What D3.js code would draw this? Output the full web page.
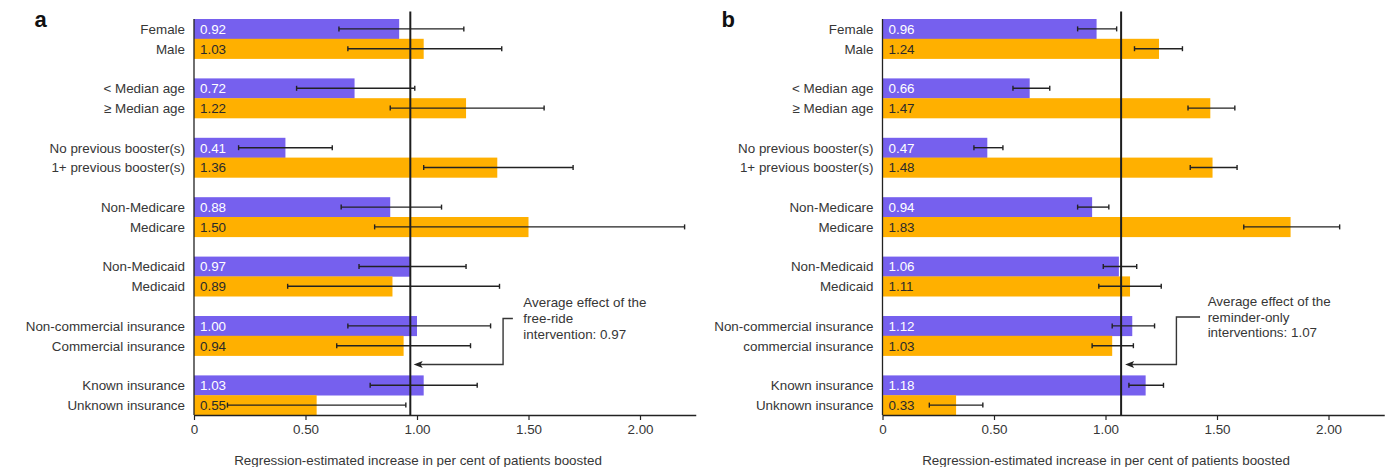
<!DOCTYPE html>
<html>
<head>
<meta charset="utf-8">
<script src="https://cdn.jsdelivr.net/npm/d3@7"></script>
<style>
  html, body { margin: 0; padding: 0; background: #fff; }
  svg { display: block; font-family: "Liberation Sans", Arial, Helvetica, sans-serif; }
</style>
</head>
<body>
<svg id="chart" width="1392" height="467"></svg>
<script>
// ---------- DATA ----------
const categoriesA = ["Female", "Male", "< Median age", "≥ Median age", "No previous booster(s)", "1+ previous booster(s)",
  "Non-Medicare", "Medicare", "Non-Medicaid", "Medicaid", "Non-commercial insurance", "Commercial insurance",
  "Known insurance", "Unknown insurance"];
const categoriesB = ["Female", "Male", "< Median age", "≥ Median age", "No previous booster(s)", "1+ previous booster(s)",
  "Non-Medicare", "Medicare", "Non-Medicaid", "Medicaid", "Non-commercial insurance", "commercial insurance",
  "Known insurance", "Unknown insurance"];

const valuesA = [0.92, 1.03, 0.72, 1.22, 0.41, 1.36, 0.88, 1.50, 0.97, 0.89, 1.00, 0.94, 1.03, 0.55];
const lowA    = [0.65, 0.69, 0.46, 0.88, 0.20, 1.03, 0.66, 0.81, 0.74, 0.42, 0.69, 0.64, 0.79, 0.15];
const highA   = [1.21, 1.38, 0.99, 1.57, 0.62, 1.70, 1.11, 2.20, 1.22, 1.37, 1.33, 1.24, 1.27, 0.95];

const valuesB = [0.96, 1.24, 0.66, 1.47, 0.47, 1.48, 0.94, 1.83, 1.06, 1.11, 1.12, 1.03, 1.18, 0.33];
const lowB    = [0.875, 1.13, 0.585, 1.37, 0.41, 1.38, 0.875, 1.62, 0.99, 0.97, 1.03, 0.94, 1.105, 0.21];
const highB   = [1.05, 1.345, 0.75, 1.58, 0.54, 1.59, 1.015, 2.05, 1.14, 1.25, 1.22, 1.125, 1.26, 0.45];

const tickValues = [0, 0.5, 1, 1.5, 2];
const tickLabels = ["0", "0.50", "1.00", "1.50", "2.00"];

const averageA = 0.97;
const averageB = 1.07;
const noteA = ["Average effect of the", "free-ride", "intervention: 0.97"];
const noteB = ["Average effect of the", "reminder-only", "interventions: 1.07"];
const axisTitle = "Regression-estimated increase in per cent of patients boosted";

// ---------- STYLE ----------
const PURPLE = "#7660ee";
const ORANGE = "#ffb000";
const INK = "#363636";
const FS = 13.4;

const svg = d3.select("#chart");

function rowSlot(i) { return Math.floor(i / 2) * 3 + (i % 2); }

function drawPanel(opt) {
  const g = svg.append("g");
  const x = d3.scaleLinear().domain([0, 2.25]).range([opt.x0, opt.x0 + 2.25 * 223]);
  const y = d3.scaleBand().domain(d3.range(20)).range([19, 415]).padding(0);
  const bw = y.bandwidth();
  const yAxis = 415;

  const data = opt.cats.map((c, i) => ({
    cat: c, v: opt.values[i], lo: opt.low[i], hi: opt.high[i], i, slot: rowSlot(i)
  }));

  // bars
  g.selectAll("rect.bar").data(data).join("rect")
    .attr("class", "bar")
    .attr("x", x(0))
    .attr("y", d => y(d.slot))
    .attr("width", d => x(d.v) - x(0))
    .attr("height", bw + 0.3)
    .attr("fill", d => d.i % 2 === 0 ? PURPLE : ORANGE);

  // value labels
  g.selectAll("text.val").data(data).join("text")
    .attr("x", x(0) + 6)
    .attr("y", d => y(d.slot) + bw / 2)
    .attr("dy", "0.36em")
    .attr("font-size", FS)
    .attr("fill", d => d.i % 2 === 0 ? "#ffffff" : "#2a2a2a")
    .text(d => d.v.toFixed(2));

  // category labels
  g.selectAll("text.cat").data(data).join("text")
    .attr("x", x(0) - 9)
    .attr("y", d => y(d.slot) + bw / 2)
    .attr("dy", "0.36em")
    .attr("text-anchor", "end")
    .attr("font-size", FS)
    .attr("fill", INK)
    .text(d => d.cat);

  // error bars
  const eb = g.selectAll("g.eb").data(data).join("g").attr("stroke", "#222").attr("stroke-width", 1.4);
  eb.append("line")
    .attr("x1", d => x(d.lo)).attr("x2", d => x(d.hi))
    .attr("y1", d => y(d.slot) + bw / 2).attr("y2", d => y(d.slot) + bw / 2);
  eb.append("line")
    .attr("x1", d => x(d.lo)).attr("x2", d => x(d.lo))
    .attr("y1", d => y(d.slot) + bw / 2 - 2.5).attr("y2", d => y(d.slot) + bw / 2 + 2.5);
  eb.append("line")
    .attr("x1", d => x(d.hi)).attr("x2", d => x(d.hi))
    .attr("y1", d => y(d.slot) + bw / 2 - 2.5).attr("y2", d => y(d.slot) + bw / 2 + 2.5);

  // left axis line
  g.append("line").attr("x1", x(0)).attr("x2", x(0)).attr("y1", 19).attr("y2", yAxis)
    .attr("stroke", "#222").attr("stroke-width", 1.3);

  // x axis
  const axis = d3.axisBottom(x).tickValues(tickValues)
    .tickFormat((d, i) => tickLabels[i]).tickSize(5).tickSizeOuter(0).tickPadding(4);
  const ag = g.append("g").attr("transform", `translate(0,${yAxis})`).call(axis);
  ag.select(".domain").attr("stroke", "#222").attr("stroke-width", 1.3);
  ag.selectAll(".tick line").attr("stroke", "#222").attr("stroke-width", 1.2);
  ag.selectAll(".tick text").attr("font-size", FS).attr("fill", INK)
    .attr("font-family", "'Liberation Sans', Arial, sans-serif");

  // axis title
  g.append("text").attr("x", opt.titleX).attr("y", 460).attr("dy", "0.36em")
    .attr("text-anchor", "middle").attr("font-size", FS).attr("fill", INK).text(axisTitle);

  // average line
  g.append("line").attr("x1", x(opt.avg)).attr("x2", x(opt.avg)).attr("y1", 11.5).attr("y2", yAxis)
    .attr("stroke", "#1e1e1e").attr("stroke-width", 2);

  // annotation
  const arrowY = y(17) + bw / 2 - 1;
  const lineY = [opt.noteY, opt.noteY + 16, opt.noteY + 31.5];
  g.selectAll("text.note").data(opt.note).join("text")
    .attr("x", x(opt.ann.text))
    .attr("y", (d, i) => lineY[i])
    .attr("dy", "0.36em")
    .attr("font-size", FS)
    .attr("fill", INK)
    .text(d => d);
  const tipX = x(opt.ann.tip);
  g.append("path")
    .attr("d", `M${x(opt.ann.end)},${lineY[1]} H${x(opt.ann.elbow)} V${arrowY} H${tipX + 6}`)
    .attr("fill", "none").attr("stroke", INK).attr("stroke-width", 1.4);
  g.append("path")
    .attr("d", `M${tipX},${arrowY} L${tipX + 9},${arrowY - 3.5} L${tipX + 7},${arrowY} L${tipX + 9},${arrowY + 3.5} Z`)
    .attr("fill", "#222");

  // panel letter
  g.append("text").attr("x", opt.letterX).attr("y", 27).attr("font-size", 22).attr("font-weight", "bold")
    .attr("fill", "#111").text(opt.letter);
}

drawPanel({
  x0: 194, cats: categoriesA, values: valuesA, low: lowA, high: highA, avg: averageA,
  note: noteA, noteY: 302.5, ann: { tip: 0.985, elbow: 1.386, end: 1.43, text: 1.477 },
  letter: "a", letterX: 34.5, titleX: 418
});
drawPanel({
  x0: 882.5, cats: categoriesB, values: valuesB, low: lowB, high: highB, avg: averageB,
  note: noteB, noteY: 301, ann: { tip: 1.088, elbow: 1.318, end: 1.424, text: 1.458 },
  letter: "b", letterX: 721.5, titleX: 1106
});
</script>
</body>
</html>
